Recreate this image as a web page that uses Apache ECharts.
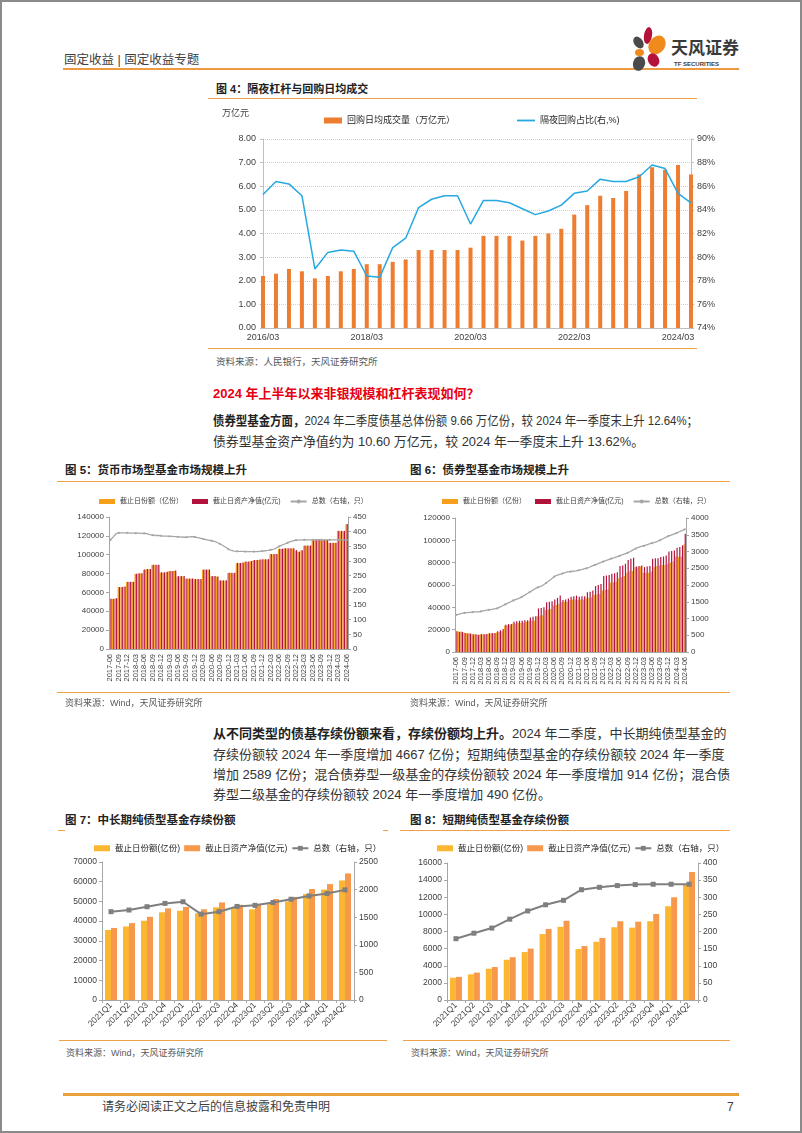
<!DOCTYPE html>
<html><head><meta charset="utf-8">
<script src="https://cdn.jsdelivr.net/npm/echarts@6/dist/echarts.min.js"></script>
<style>
body{margin:0;background:#fff;}
#page{position:relative;width:802px;height:1133px;overflow:hidden;background:#fff;font-family:"Liberation Sans","Noto Sans CJK SC",sans-serif;box-sizing:border-box;border:2px solid #8a8a8a;}
.t{position:absolute;white-space:nowrap;color:#333;}
.hl{position:absolute;background:#F0A04B;height:1px;}
.ch{position:absolute;}
.pt{position:absolute;border-radius:50%;}
.j{text-align:justify;text-align-last:justify;}
.b{font-weight:bold;color:#222;}
.fit{transform-origin:0 50%;}
</style></head><body><div id="page">

<div class="ch" id="c4" style="left:198px;top:98px;width:520px;height:250px;"></div>
<div class="ch" id="c5" style="left:53px;top:483px;width:345px;height:220px;"></div>
<div class="ch" id="c6" style="left:398px;top:483px;width:345px;height:220px;"></div>
<div class="ch" id="c7" style="left:53px;top:833px;width:345px;height:200px;"></div>
<div class="ch" id="c8" style="left:398px;top:833px;width:345px;height:200px;"></div>

<!-- header -->
<div class="t" style="left:62px;top:49px;font-size:12.5px;line-height:18px;color:#404040;">固定收益 | 固定收益专题</div>
<div class="hl" style="left:61px;top:66px;width:676px;height:1.5px;background:#ED9A43;"></div>
<div class="pt" style="left:632px;top:34px;width:9px;height:13px;background:#4a4a4a;transform:rotate(-35deg);"></div>
<div class="pt" style="left:642px;top:25px;width:8px;height:17px;background:#B5123B;transform:rotate(10deg);"></div>
<div class="pt" style="left:647px;top:33px;width:16px;height:20px;background:#F08A1C;transform:rotate(35deg);"></div>
<div class="pt" style="left:633px;top:47px;width:9px;height:7px;background:#F08A1C;"></div>
<div class="pt" style="left:631px;top:54px;width:12px;height:15px;background:#4a4a4a;transform:rotate(20deg);"></div>
<div class="pt" style="left:646px;top:51px;width:11px;height:14px;background:#B5123B;transform:rotate(-30deg);"></div>
<div class="t" style="left:669px;top:36px;font-size:17px;line-height:22px;font-weight:bold;color:#3a3a3a;">天风证券</div>
<div class="t" style="left:672px;top:58px;font-size:6px;line-height:8px;font-weight:bold;color:#3a3a3a;">TF SECURITIES</div>

<!-- chart 4 -->
<div class="t b" style="left:214px;top:79px;font-size:11px;line-height:16px;">图 4：隔夜杠杆与回购日均成交</div>
<div class="hl" style="left:206px;top:96px;width:489px;"></div>
<div class="t" style="left:220px;top:104px;font-size:9px;line-height:14px;color:#404040;">万亿元</div>
<div class="hl" style="left:206px;top:346px;width:489px;"></div>
<div class="t" style="left:214px;top:353px;font-size:9.5px;line-height:14px;color:#595959;">资料来源：人民银行，天风证券研究所</div>

<div class="t" style="left:211px;top:383px;font-size:13px;line-height:18px;font-weight:bold;color:#E60012;">2024 年上半年以来非银规模和杠杆表现如何？</div>
<div class="t fit" data-w="485" style="left:211px;top:409px;font-size:13px;line-height:19px;"><span class="b">债券型基金方面，</span>2024 年二季度债基总体份额 9.66 万亿份，较 2024 年一季度末上升 12.64%；</div>
<div class="t fit" data-w="431" style="left:211px;top:430px;font-size:13px;line-height:19px;">债券型基金资产净值约为 10.60 万亿元，较 2024 年一季度末上升 13.62%。</div>

<!-- chart 5/6 -->
<div class="t b" style="left:63px;top:460px;font-size:11.5px;line-height:17px;">图 5：货币市场型基金市场规模上升</div>
<div class="t b" style="left:408px;top:460px;font-size:11.5px;line-height:17px;">图 6：债券型基金市场规模上升</div>
<div class="hl" style="left:55px;top:479px;width:673px;"></div>
<div class="hl" style="left:55px;top:690px;width:673px;"></div>
<div class="t" style="left:63px;top:694px;font-size:9px;line-height:14px;color:#595959;">资料来源：Wind，天风证券研究所</div>
<div class="t" style="left:408px;top:694px;font-size:9px;line-height:14px;color:#595959;">资料来源：Wind，天风证券研究所</div>

<div class="t j" style="left:211px;top:722px;width:484px;font-size:13px;line-height:19px;"><span class="b">从不同类型的债基存续份额来看，存续份额均上升。</span>2024 年二季度，中长期纯债型基金的</div>
<div class="t j" style="left:211px;top:743px;width:484px;font-size:13px;line-height:19px;">存续份额较 2024 年一季度增加 4667 亿份；短期纯债型基金的存续份额较 2024 年一季度</div>
<div class="t j" style="left:211px;top:763px;width:484px;font-size:13px;line-height:19px;">增加 2589 亿份；混合债券型一级基金的存续份额较 2024 年一季度增加 914 亿份；混合债</div>
<div class="t" style="left:211px;top:783px;font-size:13px;line-height:19px;">券型二级基金的存续份额较 2024 年一季度增加 490 亿份。</div>

<!-- chart 7/8 -->
<div class="t b" style="left:63px;top:810px;font-size:11.5px;line-height:17px;">图 7：中长期纯债型基金存续份额</div>
<div class="t b" style="left:408px;top:810px;font-size:11.5px;line-height:17px;">图 8：短期纯债型基金存续份额</div>
<div class="hl" style="left:56px;top:828px;width:7px;"></div>
<div class="hl" style="left:381px;top:828px;width:5px;"></div>
<div class="hl" style="left:398px;top:828px;width:330px;"></div>
<div class="hl" style="left:57px;top:1038px;width:328px;"></div>
<div class="hl" style="left:401px;top:1038px;width:327px;"></div>
<div class="t" style="left:64px;top:1044px;font-size:9px;line-height:14px;color:#595959;">资料来源：Wind，天风证券研究所</div>
<div class="t" style="left:409px;top:1044px;font-size:9px;line-height:14px;color:#595959;">资料来源：Wind，天风证券研究所</div>

<!-- footer -->
<div class="hl" style="left:61px;top:1091px;width:676px;height:2.5px;background:#E9A23B;"></div>
<div class="t" style="left:100px;top:1097px;font-size:12px;line-height:17px;color:#404040;">请务必阅读正文之后的信息披露和免责申明</div>
<div class="t" style="left:725px;top:1097px;font-size:12px;line-height:17px;color:#404040;">7</div>
</div>
<script>
// ---------- chart 4 data ----------
var cat4 = ['2016/03','2016/06','2016/09','2016/12','2017/03','2017/06','2017/09','2017/12','2018/03','2018/06','2018/09','2018/12','2019/03','2019/06','2019/09','2019/12','2020/03','2020/06','2020/09','2020/12','2021/03','2021/06','2021/09','2021/12','2022/03','2022/06','2022/09','2022/12','2023/03','2023/06','2023/09','2023/12','2024/03','2024/06'];
var repoVol = [2.2,2.3,2.5,2.4,2.1,2.2,2.4,2.5,2.7,2.7,2.8,2.9,3.3,3.3,3.3,3.3,3.4,3.9,3.9,3.9,3.7,3.9,4.0,4.2,4.8,5.2,5.6,5.5,5.8,6.5,6.8,6.7,6.9,6.5];
var overnightPct = [85.3,86.4,86.2,85.2,79.0,80.4,80.6,80.5,78.4,78.3,80.8,81.6,84.2,84.9,85.2,85.2,82.8,84.8,84.8,84.6,84.1,83.6,83.9,84.4,85.4,85.6,86.6,86.4,86.4,86.8,87.8,87.5,85.4,84.6];

// ---------- chart 5/6 data ----------
var months = ['2017-06','2017-07','2017-08','2017-09','2017-10','2017-11','2017-12',
'2018-01','2018-02','2018-03','2018-04','2018-05','2018-06','2018-07','2018-08','2018-09','2018-10','2018-11','2018-12',
'2019-01','2019-02','2019-03','2019-04','2019-05','2019-06','2019-07','2019-08','2019-09','2019-10','2019-11','2019-12',
'2020-01','2020-02','2020-03','2020-04','2020-05','2020-06','2020-07','2020-08','2020-09','2020-10','2020-11','2020-12',
'2021-01','2021-02','2021-03','2021-04','2021-05','2021-06','2021-07','2021-08','2021-09','2021-10','2021-11','2021-12',
'2022-01','2022-02','2022-03','2022-04','2022-05','2022-06','2022-07','2022-08','2022-09','2022-10','2022-11','2022-12',
'2023-01','2023-02','2023-03','2023-04','2023-05','2023-06','2023-07','2023-08','2023-09','2023-10','2023-11','2023-12',
'2024-01','2024-02','2024-03','2024-04','2024-05','2024-06'];
var mmfShare = [53000,53000,53500,65500,65500,66000,71000,71000,71000,79500,80000,80000,84000,84500,84500,89000,89000,89000,
81000,81000,81500,82500,82500,83000,77000,77000,77000,74500,74500,74500,74000,74000,74000,84000,84000,84000,
77000,77000,76500,72500,72500,72500,80500,80500,80500,91000,91000,91500,92500,92500,93000,94000,94000,94500,
95000,95000,95000,100500,100500,100500,106000,106000,106500,106500,106500,106500,104500,103000,104500,
109500,109500,109500,116000,116000,116000,115500,115500,115500,112500,112500,112500,125000,125000,125000,132000];
var mmfNav = [53200,53200,53700,65700,65700,66200,71200,71200,71300,79800,80300,80300,84300,84800,84800,89300,89300,89300,
81300,81300,81800,82800,82800,83300,77300,77300,77300,74800,74800,74800,74300,74300,74300,84300,84300,84300,
77300,77300,76800,72800,72800,72800,80800,80800,80800,91300,91300,91800,92800,92800,93300,94300,94300,94800,
95300,95300,95300,100800,100800,100800,106300,106300,106800,106800,106800,106800,104800,103300,104800,
109800,109800,109800,116300,116300,116300,115800,115800,115800,112800,112800,112800,125300,125300,125300,132500];
var mmfCount = [372,382,393,396,396,396,396,395,395,395,395,394,394,393,390,388,387,387,386,385,
385,384,384,383,382,382,381,381,382,383,382,380,378,375,373,371,369,367,363,358,
353,347,340,336,334,333,333,333,332,332,332,332,332,333,334,335,336,338,340,344,
350,354,358,362,366,369,371,371,372,372,372,372,372,372,372,372,372,372,372,372,
372,372,372,372,372];
var bondShare = [19000,18500,18500,17500,17000,17000,16000,16000,15500,16000,16000,16000,16500,16500,16500,17500,18000,18500,
23500,24000,24000,25500,25500,26000,26000,26500,27000,27500,28000,28000,32000,32500,33000,37500,38000,38500,
41500,42000,43000,44500,45000,45000,46500,47000,47000,46500,47000,47000,48000,48500,49000,51000,51500,52000,
55000,55500,56000,62000,62500,63000,66000,67000,68000,71000,72000,72500,76000,76000,76500,71000,71000,71000,
72000,76000,77000,77500,78000,78000,79000,80000,81000,85800,85000,85500,96600];
var bondNav = [18500,18000,18000,17000,16500,16500,15800,15800,15500,16000,16000,16200,16800,17000,17000,18500,19500,20500,
24500,25000,25000,27000,27500,28000,28000,28500,28500,31000,31500,32000,39000,39500,40000,44500,45000,45500,
47000,48500,50500,46500,47000,48000,49500,50000,50500,49500,50000,50000,53500,54000,55000,59000,60000,61000,
68000,68500,69000,70000,70500,71500,77000,77500,79000,82500,83500,84500,76500,77000,77500,76000,76500,77000,
83500,84000,84000,85000,85500,86500,90000,90500,91000,93300,94000,95500,106000];
var bondCount = [1110,1130,1150,1165,1175,1185,1190,1195,1200,1210,1230,1250,1260,1270,1285,1300,1340,1380,1420,1460,
1500,1540,1570,1600,1640,1690,1740,1790,1840,1890,1930,1960,2000,2060,2120,2180,2250,2290,2320,2340,
2370,2390,2400,2410,2420,2440,2460,2480,2500,2530,2570,2600,2630,2670,2700,2730,2760,2790,2810,2840,
2870,2900,2930,2960,3000,3050,3090,3120,3150,3170,3200,3230,3250,3270,3300,3340,3380,3420,3460,3490,
3520,3550,3590,3620,3660];

// ---------- chart 7/8 data ----------
var quarters = ['2021Q1','2021Q2','2021Q3','2021Q4','2022Q1','2022Q2','2022Q3','2022Q4','2023Q1','2023Q2','2023Q3','2023Q4','2024Q1','2024Q2'];
var mlShare = [35500,37300,40200,44500,45300,44000,47000,46500,46000,49000,50000,53800,56000,60650];
var mlNav = [36500,39000,42200,46500,47200,46000,49500,48300,48200,51200,52300,56300,58800,64200];
var mlCount = [1600,1630,1690,1750,1780,1555,1600,1695,1715,1765,1825,1885,1930,1995];
var stShare = [2600,3000,3650,4700,5600,7700,8550,5950,6800,8500,8450,9200,10950,13550];
var stNav = [2700,3200,3850,5000,6000,8300,9250,6300,7250,9200,9150,10050,12000,14950];
var stCount = [179,195,210,236,260,278,291,322,329,334,337,338,338,338];

// fit paragraph lines to their measured widths
document.querySelectorAll('.fit').forEach(function(el){
  var w = +el.getAttribute('data-w');
  var a = el.getBoundingClientRect().width;
  if (a > 0) el.style.transform = 'scaleX(' + (w / a) + ')';
});

var FONT = 'Liberation Sans, Noto Sans CJK SC, sans-serif';
var AX = '#A6A6A6', LAB = '#404040';
function plain(v){ return String(v); }

function yAx(min, max, itv, fs, extra){
  var o = {type:'value', min:min, max:max, interval:itv,
    axisLine:{show:true, lineStyle:{color:AX}},
    axisTick:{show:true, length:3, lineStyle:{color:AX}},
    splitLine:{show:false},
    axisLabel:{fontSize:fs, color:LAB, margin:5, fontFamily:FONT, formatter:plain}};
  for (var k in extra) o[k] = extra[k];
  return o;
}

// chart 4
var c4 = echarts.init(document.getElementById('c4'));
c4.setOption({
  animation:false, textStyle:{fontFamily:FONT},
  legend:{left:119, top:11, itemWidth:18, itemHeight:6, itemGap:62,
    textStyle:{fontSize:9, color:'#262626', fontFamily:FONT},
    data:[{name:'回购日均成交量（万亿元）', icon:'rect'},
          {name:'隔夜回购占比(右,%)', icon:'path://M0,0 L120,0 L120,12 L0,12 Z'}]},
  grid:{left:63, right:29, top:39, bottom:22},
  xAxis:{type:'category', data:cat4, boundaryGap:false,
    axisLine:{lineStyle:{color:'#BFBFBF'}}, axisTick:{show:false},
    axisLabel:{interval:7, fontSize:9, color:LAB, margin:5}},
  yAxis:[
    yAx(0, 8, 1, 9, {axisLabel:{fontSize:9, color:LAB, margin:7, formatter:function(v){return v.toFixed(2);}},
      axisLine:{show:true, lineStyle:{color:'#BFBFBF'}}, axisTick:{show:true,length:3,lineStyle:{color:'#BFBFBF'}},
      splitLine:{show:true, lineStyle:{type:'dotted', color:'#D0D0D0'}}}),
    yAx(74, 90, 2, 9, {axisLabel:{fontSize:9, color:LAB, margin:6, formatter:'{value}%'},
      axisLine:{show:true, lineStyle:{color:'#BFBFBF'}}, axisTick:{show:true,length:3,lineStyle:{color:'#BFBFBF'}}})
  ],
  series:[
    {name:'回购日均成交量（万亿元）', type:'bar', data:repoVol, barWidth:4, itemStyle:{color:'#ED7D31'}},
    {name:'隔夜回购占比(右,%)', type:'line', yAxisIndex:1, data:overnightPct, symbol:'none',
      lineStyle:{color:'#25A9E0', width:1.5}, itemStyle:{color:'#25A9E0'}}
  ]
});

function monthChart(id, share, nav, count, lmax, litv, rmax, ritv, grid){
  var c = echarts.init(document.getElementById(id));
  c.setOption({
    animation:false, textStyle:{fontFamily:FONT},
    legend:{left:grid.lleft, top:8, itemWidth:16, itemHeight:5, itemGap:9,
      textStyle:{fontSize:7, color:'#404040', fontFamily:FONT},
      data:[{name:'截止日份额（亿份）', icon:'rect'},{name:'截止日资产净值(亿元)', icon:'rect'},{name:'总数（右轴，只）'}]},
    grid:{left:grid.left, right:grid.right, top:grid.top, bottom:grid.bottom},
    xAxis:{type:'category', data:months,
      axisLine:{lineStyle:{color:AX}}, axisTick:{show:false},
      axisLabel:{interval:2, rotate:90, fontSize:7.5, color:LAB, margin:5}},
    yAxis:[yAx(0, lmax, litv, 8, {}), yAx(0, rmax, ritv, 8, {})],
    series:[
      {name:'截止日份额（亿份）', type:'bar', data:share, barGap:'0%', barCategoryGap:'12%', itemStyle:{color:'#F6A01A'}},
      {name:'截止日资产净值(亿元)', type:'bar', data:nav, itemStyle:{color:'#B3123C'}},
      {name:'总数（右轴，只）', type:'line', yAxisIndex:1, data:count, symbol:'circle', symbolSize:2.2,
        lineStyle:{color:'#A6A6A6', width:1.3}, itemStyle:{color:'#A6A6A6'}}
    ]
  });
}
monthChart('c5', mmfShare, mmfNav, mmfCount, 140000, 20000, 450, 50, {left:54, right:52, top:32, bottom:56, lleft:39});
monthChart('c6', bondShare, bondNav, bondCount, 120000, 20000, 4000, 500, {left:55, right:59, top:33, bottom:53, lleft:37});

function qChart(id, share, nav, count, lmax, litv, rmax, ritv, grid){
  var c = echarts.init(document.getElementById(id));
  c.setOption({
    animation:false, textStyle:{fontFamily:FONT},
    legend:{left:grid.lleft, top:4, itemWidth:16, itemHeight:6, itemGap:4,
      textStyle:{fontSize:8.5, color:'#262626', fontFamily:FONT},
      data:[{name:'截止日份额(亿份)', icon:'rect'},{name:'截止日资产净值(亿元)', icon:'rect'},{name:'总数（右轴，只）'}]},
    grid:{left:grid.left, right:grid.right, top:grid.top, bottom:grid.bottom},
    xAxis:{type:'category', data:quarters,
      axisLine:{lineStyle:{color:AX}}, axisTick:{show:true, length:3, lineStyle:{color:AX}},
      axisLabel:{interval:0, rotate:45, fontSize:8.5, color:LAB, margin:4}},
    yAxis:[yAx(0, lmax, litv, 8.5, {}), yAx(0, rmax, ritv, 8.5, {})],
    series:[
      {name:'截止日份额(亿份)', type:'bar', data:share, barWidth:6, barGap:'0%', itemStyle:{color:'#FBB731'}},
      {name:'截止日资产净值(亿元)', type:'bar', data:nav, barWidth:6, itemStyle:{color:'#F7994C'}},
      {name:'总数（右轴，只）', type:'line', yAxisIndex:1, data:count, symbol:'rect', symbolSize:5,
        lineStyle:{color:'#7F7F7F', width:2}, itemStyle:{color:'#7F7F7F'}}
    ]
  });
}
qChart('c7', mlShare, mlNav, mlCount, 70000, 10000, 2500, 500, {left:47, right:46, top:27, bottom:35, lleft:34});
qChart('c8', stShare, stNav, stCount, 16000, 2000, 400, 50, {left:47, right:47, top:28, bottom:35, lleft:32});
</script>
</body></html>
